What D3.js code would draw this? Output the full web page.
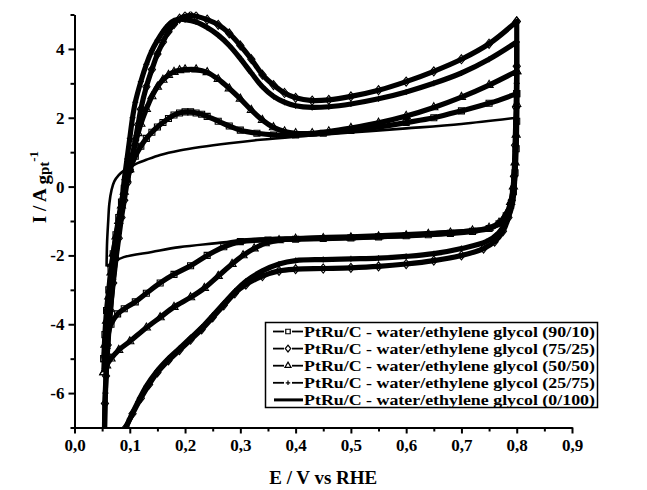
<!DOCTYPE html>
<html><head><meta charset="utf-8">
<script src="https://cdn.jsdelivr.net/npm/d3@7"></script>
<style>
body{margin:0;background:#fff}
svg{display:block}
text{font-family:"Liberation Serif","Times New Roman",serif !important;font-weight:bold !important;fill:#000}
</style>
</head><body>
<svg id="c" width="647" height="490"></svg>
<script>
// ---- data (E / V vs RHE, I / A gpt^-1) ----
const seriesNames = [
  "PtRu/C - water/ethylene glycol (90/10)",
  "PtRu/C - water/ethylene glycol (75/25)",
  "PtRu/C - water/ethylene glycol (50/50)",
  "PtRu/C - water/ethylene glycol (25/75)",
  "PtRu/C - water/ethylene glycol (0/100)"
];
const seriesMarkers = ["square","diamond","triangle","plus","none"];

const sq_anodic = [[0.053,-5.0],[0.055,-4.3],[0.058,-3.6],[0.062,-3.0],[0.066,-2.4],[0.07,-1.95],[0.075,-1.4],[0.08,-0.9],[0.085,-0.45],[0.09,-0.05],[0.095,0.25],[0.1,0.5],[0.11,0.88],[0.12,1.17],[0.13,1.4],[0.14,1.58],[0.15,1.73],[0.16,1.86],[0.17,1.98],[0.18,2.08],[0.19,2.14],[0.2,2.17],[0.21,2.17],[0.22,2.14],[0.23,2.1],[0.24,2.04],[0.26,1.9],[0.28,1.76],[0.3,1.64],[0.33,1.55],[0.36,1.5],[0.4,1.5],[0.45,1.55],[0.5,1.63],[0.55,1.73],[0.6,1.86],[0.65,2.0],[0.7,2.2],[0.75,2.42],[0.8,2.7]];
const sq_cathodic = [[0.8,2.7],[0.8,1.9],[0.799,1.1],[0.797,0.4],[0.794,-0.15],[0.789,-0.55],[0.781,-0.85],[0.768,-1.08],[0.75,-1.22],[0.72,-1.3],[0.68,-1.36],[0.64,-1.4],[0.6,-1.43],[0.55,-1.46],[0.5,-1.49],[0.45,-1.51],[0.4,-1.53],[0.35,-1.55],[0.3,-1.6],[0.27,-1.75],[0.24,-2.0],[0.21,-2.3],[0.18,-2.55],[0.155,-2.8],[0.13,-3.1],[0.11,-3.35],[0.09,-3.55],[0.078,-3.7],[0.066,-4.0],[0.058,-4.5],[0.053,-5.0]];

const di_anodic = [[0.053,-9.5],[0.054,-7.5],[0.055,-6.3],[0.057,-5.5],[0.06,-4.6],[0.065,-3.6],[0.07,-2.8],[0.075,-2.1],[0.08,-1.5],[0.085,-0.9],[0.09,-0.4],[0.095,0.1],[0.1,0.5],[0.105,0.9],[0.11,1.35],[0.115,1.8],[0.12,2.25],[0.13,2.9],[0.14,3.4],[0.15,3.85],[0.16,4.2],[0.17,4.5],[0.18,4.72],[0.19,4.88],[0.2,4.95],[0.21,4.97],[0.22,4.95],[0.24,4.85],[0.26,4.7],[0.28,4.45],[0.3,4.1],[0.32,3.7],[0.34,3.25],[0.36,2.95],[0.38,2.72],[0.4,2.58],[0.43,2.5],[0.46,2.52],[0.5,2.62],[0.55,2.8],[0.6,3.05],[0.65,3.35],[0.7,3.7],[0.75,4.15],[0.8,4.8]];
const di_cathodic = [[0.8,4.8],[0.8,3.5],[0.799,2.3],[0.797,1.2],[0.795,0.3],[0.791,-0.4],[0.785,-0.9],[0.775,-1.3],[0.76,-1.6],[0.74,-1.8],[0.7,-2.0],[0.65,-2.15],[0.6,-2.25],[0.55,-2.32],[0.5,-2.36],[0.45,-2.38],[0.4,-2.4],[0.37,-2.45],[0.34,-2.6],[0.31,-2.85],[0.29,-3.1],[0.27,-3.45],[0.25,-3.8],[0.23,-4.15],[0.21,-4.45],[0.19,-4.75],[0.17,-5.05],[0.15,-5.4],[0.135,-5.75],[0.12,-6.15],[0.105,-6.6],[0.093,-7.0],[0.08,-7.6],[0.065,-8.4],[0.053,-9.5]];

const tr_anodic = [[0.053,-5.4],[0.055,-4.6],[0.058,-3.9],[0.062,-3.2],[0.066,-2.5],[0.07,-1.95],[0.075,-1.45],[0.08,-1.0],[0.085,-0.55],[0.09,-0.15],[0.095,0.2],[0.1,0.5],[0.105,0.9],[0.11,1.25],[0.115,1.55],[0.12,1.82],[0.13,2.25],[0.14,2.62],[0.15,2.9],[0.16,3.1],[0.17,3.24],[0.18,3.33],[0.19,3.38],[0.2,3.4],[0.22,3.4],[0.24,3.32],[0.26,3.12],[0.28,2.85],[0.3,2.55],[0.32,2.22],[0.34,1.93],[0.36,1.72],[0.38,1.6],[0.4,1.55],[0.43,1.55],[0.46,1.6],[0.5,1.7],[0.55,1.85],[0.6,2.05],[0.65,2.3],[0.7,2.6],[0.75,2.95],[0.8,3.35]];
const tr_cathodic = [[0.8,3.35],[0.8,2.4],[0.799,1.5],[0.797,0.7],[0.794,0.0],[0.789,-0.45],[0.781,-0.8],[0.768,-1.05],[0.75,-1.2],[0.72,-1.28],[0.68,-1.34],[0.64,-1.38],[0.6,-1.42],[0.55,-1.45],[0.5,-1.48],[0.45,-1.5],[0.4,-1.52],[0.37,-1.56],[0.345,-1.65],[0.325,-1.8],[0.305,-2.0],[0.285,-2.25],[0.26,-2.6],[0.235,-2.95],[0.21,-3.22],[0.18,-3.5],[0.155,-3.8],[0.13,-4.1],[0.1,-4.5],[0.08,-4.75],[0.066,-5.0],[0.058,-5.2],[0.053,-5.4]];

const pl_anodic = [[0.053,-9.2],[0.054,-7.5],[0.056,-6.0],[0.06,-4.7],[0.065,-3.6],[0.07,-2.7],[0.075,-2.0],[0.08,-1.3],[0.085,-0.6],[0.09,0.2],[0.095,0.8],[0.1,1.4],[0.105,2.0],[0.11,2.45],[0.12,3.05],[0.13,3.55],[0.14,3.95],[0.15,4.25],[0.16,4.5],[0.17,4.7],[0.18,4.82],[0.19,4.86],[0.2,4.85],[0.22,4.78],[0.24,4.62],[0.26,4.4],[0.28,4.1],[0.3,3.72],[0.32,3.3],[0.34,2.9],[0.36,2.62],[0.38,2.45],[0.4,2.35],[0.43,2.3],[0.46,2.32],[0.5,2.4],[0.55,2.55],[0.6,2.75],[0.65,3.0],[0.7,3.3],[0.75,3.7],[0.8,4.2]];
const pl_cathodic = [[0.8,4.2],[0.8,3.0],[0.799,1.8],[0.797,0.8],[0.794,0.0],[0.789,-0.6],[0.781,-1.0],[0.767,-1.35],[0.745,-1.6],[0.7,-1.8],[0.65,-1.95],[0.6,-2.03],[0.55,-2.08],[0.5,-2.1],[0.45,-2.12],[0.4,-2.15],[0.37,-2.25],[0.34,-2.45],[0.31,-2.75],[0.29,-3.05],[0.27,-3.4],[0.25,-3.75],[0.23,-4.1],[0.21,-4.4],[0.19,-4.7],[0.17,-5.0],[0.15,-5.35],[0.13,-5.8],[0.115,-6.25],[0.1,-6.75],[0.088,-7.2],[0.07,-8.1],[0.053,-9.2]];

const so_anodic = [[0.058,-2.32],[0.059,-1.6],[0.061,-1.0],[0.063,-0.5],[0.067,-0.1],[0.072,0.15],[0.08,0.33],[0.09,0.47],[0.1,0.56],[0.114,0.68],[0.13,0.78],[0.155,0.92],[0.19,1.05],[0.228,1.15],[0.28,1.26],[0.336,1.36],[0.4,1.45],[0.5,1.57],[0.6,1.69],[0.7,1.82],[0.8,2.0]];
const so_cathodic = [[0.8,2.0],[0.8,1.0],[0.799,0.3],[0.797,-0.2],[0.794,-0.55],[0.788,-0.85],[0.778,-1.05],[0.76,-1.18],[0.72,-1.25],[0.65,-1.32],[0.6,-1.36],[0.5,-1.42],[0.4,-1.47],[0.3,-1.55],[0.27,-1.62],[0.19,-1.76],[0.14,-1.9],[0.089,-2.05],[0.07,-2.2],[0.058,-2.32]];

const xTicks = [0,0.1,0.2,0.3,0.4,0.5,0.6,0.7,0.8,0.9];
const xTickLabels = ["0,0","0,1","0,2","0,3","0,4","0,5","0,6","0,7","0,8","0,9"];
const xMinorTicks = [0.05,0.15,0.25,0.35,0.45,0.55,0.65,0.75,0.85];
const yTicks = [-6,-4,-2,0,2,4];
const yTickLabels = ["-6","-4","-2","0","2","4"];
const yMinorTicks = [-7,-5,-3,-1,1,3,5];
const xDomain = [0,0.9], yDomain = [-7,5];

// ---- drawing ----
const FONT = '"Liberation Serif","Times New Roman",serif';
const svg = d3.select("#c");
const x = d3.scaleLinear().domain(xDomain).range([74.5, 572]);
const y = d3.scaleLinear().domain(yDomain).range([427.5, 14.5]);

svg.append("defs").append("clipPath").attr("id","clip")
  .append("rect").attr("x",x(0)).attr("y",y(5)-3).attr("width",x(0.9)-x(0)).attr("height",y(-7)-y(5)+3);

const series = [
  {name:seriesNames[0], marker:seriesMarkers[0], pts:sq_anodic.concat(sq_cathodic)},
  {name:seriesNames[1], marker:seriesMarkers[1], pts:di_anodic.concat(di_cathodic)},
  {name:seriesNames[2], marker:seriesMarkers[2], pts:tr_anodic.concat(tr_cathodic)},
  {name:seriesNames[3], marker:seriesMarkers[3], pts:pl_anodic.concat(pl_cathodic)},
  {name:seriesNames[4], marker:seriesMarkers[4], pts:so_anodic.concat(so_cathodic)}
];

const line = d3.line().x(d=>x(d[0])).y(d=>y(d[1])).curve(d3.curveCatmullRom.alpha(0.5));

function markerPath(type, s){
  if(type==="square") return d3.symbol(d3.symbolSquare, s*s)();
  if(type==="diamond") return `M0,${-s*0.75}L${s*0.6},0L0,${s*0.75}L${-s*0.6},0Z`;
  if(type==="triangle") return d3.symbol(d3.symbolTriangle, s*s*0.8)();
  if(type==="plus") return `M${-s/2},0H${s/2}M0,${-s/2}V${s/2}`;
  return "";
}

const plot = svg.append("g").attr("clip-path","url(#clip)");
series.forEach(s=>{
  const solid = s.marker==="none";
  plot.append("path").datum(s.pts).attr("d",line)
    .attr("fill","none").attr("stroke","#000")
    .attr("stroke-width", solid?2.6:5.2).attr("stroke-linejoin","round");
});
series.forEach(s=>{
  if(s.marker==="none") return;
  plot.append("g").selectAll("path").data(s.pts).join("path")
    .attr("transform",d=>`translate(${x(d[0])},${y(d[1])})`)
    .attr("d",markerPath(s.marker,6))
    .attr("fill","none")
    .attr("stroke","#000").attr("stroke-width",1.1);
});

// axes
const gx = svg.append("g").attr("transform",`translate(0,${y(-7)})`)
  .call(d3.axisBottom(x).tickValues(xTicks).tickFormat((d,i)=>xTickLabels[i]).tickSize(6).tickSizeOuter(0).tickPadding(5));
const gxm = svg.append("g").attr("transform",`translate(0,${y(-7)})`)
  .call(d3.axisBottom(x).tickValues(xMinorTicks).tickFormat("").tickSize(4).tickSizeOuter(0));
const gy = svg.append("g").attr("transform",`translate(${x(0)},0)`)
  .call(d3.axisLeft(y).tickValues(yTicks).tickFormat((d,i)=>yTickLabels[i]).tickSize(6).tickSizeOuter(0).tickPadding(4));
const gym = svg.append("g").attr("transform",`translate(${x(0)},0)`)
  .call(d3.axisLeft(y).tickValues(yMinorTicks).tickFormat("").tickSize(4).tickSizeOuter(0));
[gx,gxm,gy,gym].forEach(g=>{
  g.attr("font-family",FONT).attr("font-size",17);
  g.selectAll(".domain").attr("stroke","#000").attr("stroke-width",2);
  g.selectAll(".tick line").attr("stroke","#000").attr("stroke-width",2);
  g.selectAll(".tick text").style("font-family",FONT).style("font-weight","bold").style("font-size","17px").attr("fill","#000");
});

// axis titles
svg.append("text").attr("x",(x(0)+x(0.9))/2).attr("y",484).attr("text-anchor","middle")
  .style("font-size","19px").text("E / V vs RHE");
const yt = svg.append("text").attr("transform",`translate(46,187) rotate(-90)`).attr("text-anchor","middle").style("font-size","19px");
yt.append("tspan").text("I / A ");
yt.append("tspan").attr("dy",3).text("g");
yt.append("tspan").style("font-size","15px").text("pt");
yt.append("tspan").attr("dy",-11).style("font-size","13px").text("-1");

// legend
const lg = svg.append("g");
lg.append("rect").attr("x",265.5).attr("y",322.5).attr("width",332).attr("height",85)
  .attr("fill","#fff").attr("stroke","#000").attr("stroke-width",1.5);
series.forEach((s,i)=>{
  const cy = 331.5 + i*17.1;
  const g = lg.append("g");
  if(s.marker==="none"){
    g.append("line").attr("x1",274).attr("x2",303).attr("y1",cy).attr("y2",cy).attr("stroke","#000").attr("stroke-width",3);
  } else {
    g.append("line").attr("x1",273).attr("x2",284).attr("y1",cy).attr("y2",cy).attr("stroke","#000").attr("stroke-width",1.8);
    g.append("line").attr("x1",292).attr("x2",303).attr("y1",cy).attr("y2",cy).attr("stroke","#000").attr("stroke-width",1.8);
    g.append("path").attr("transform",`translate(288,${cy})`).attr("d",markerPath(s.marker,4.5))
      .attr("fill","#fff").attr("stroke","#000").attr("stroke-width",1.2);
  }
  g.append("text").attr("x",304).attr("y",cy+5.5).style("font-size","15.3px")
    .attr("textLength",291).attr("lengthAdjust","spacingAndGlyphs").text(s.name);
});
</script>
</body></html>
